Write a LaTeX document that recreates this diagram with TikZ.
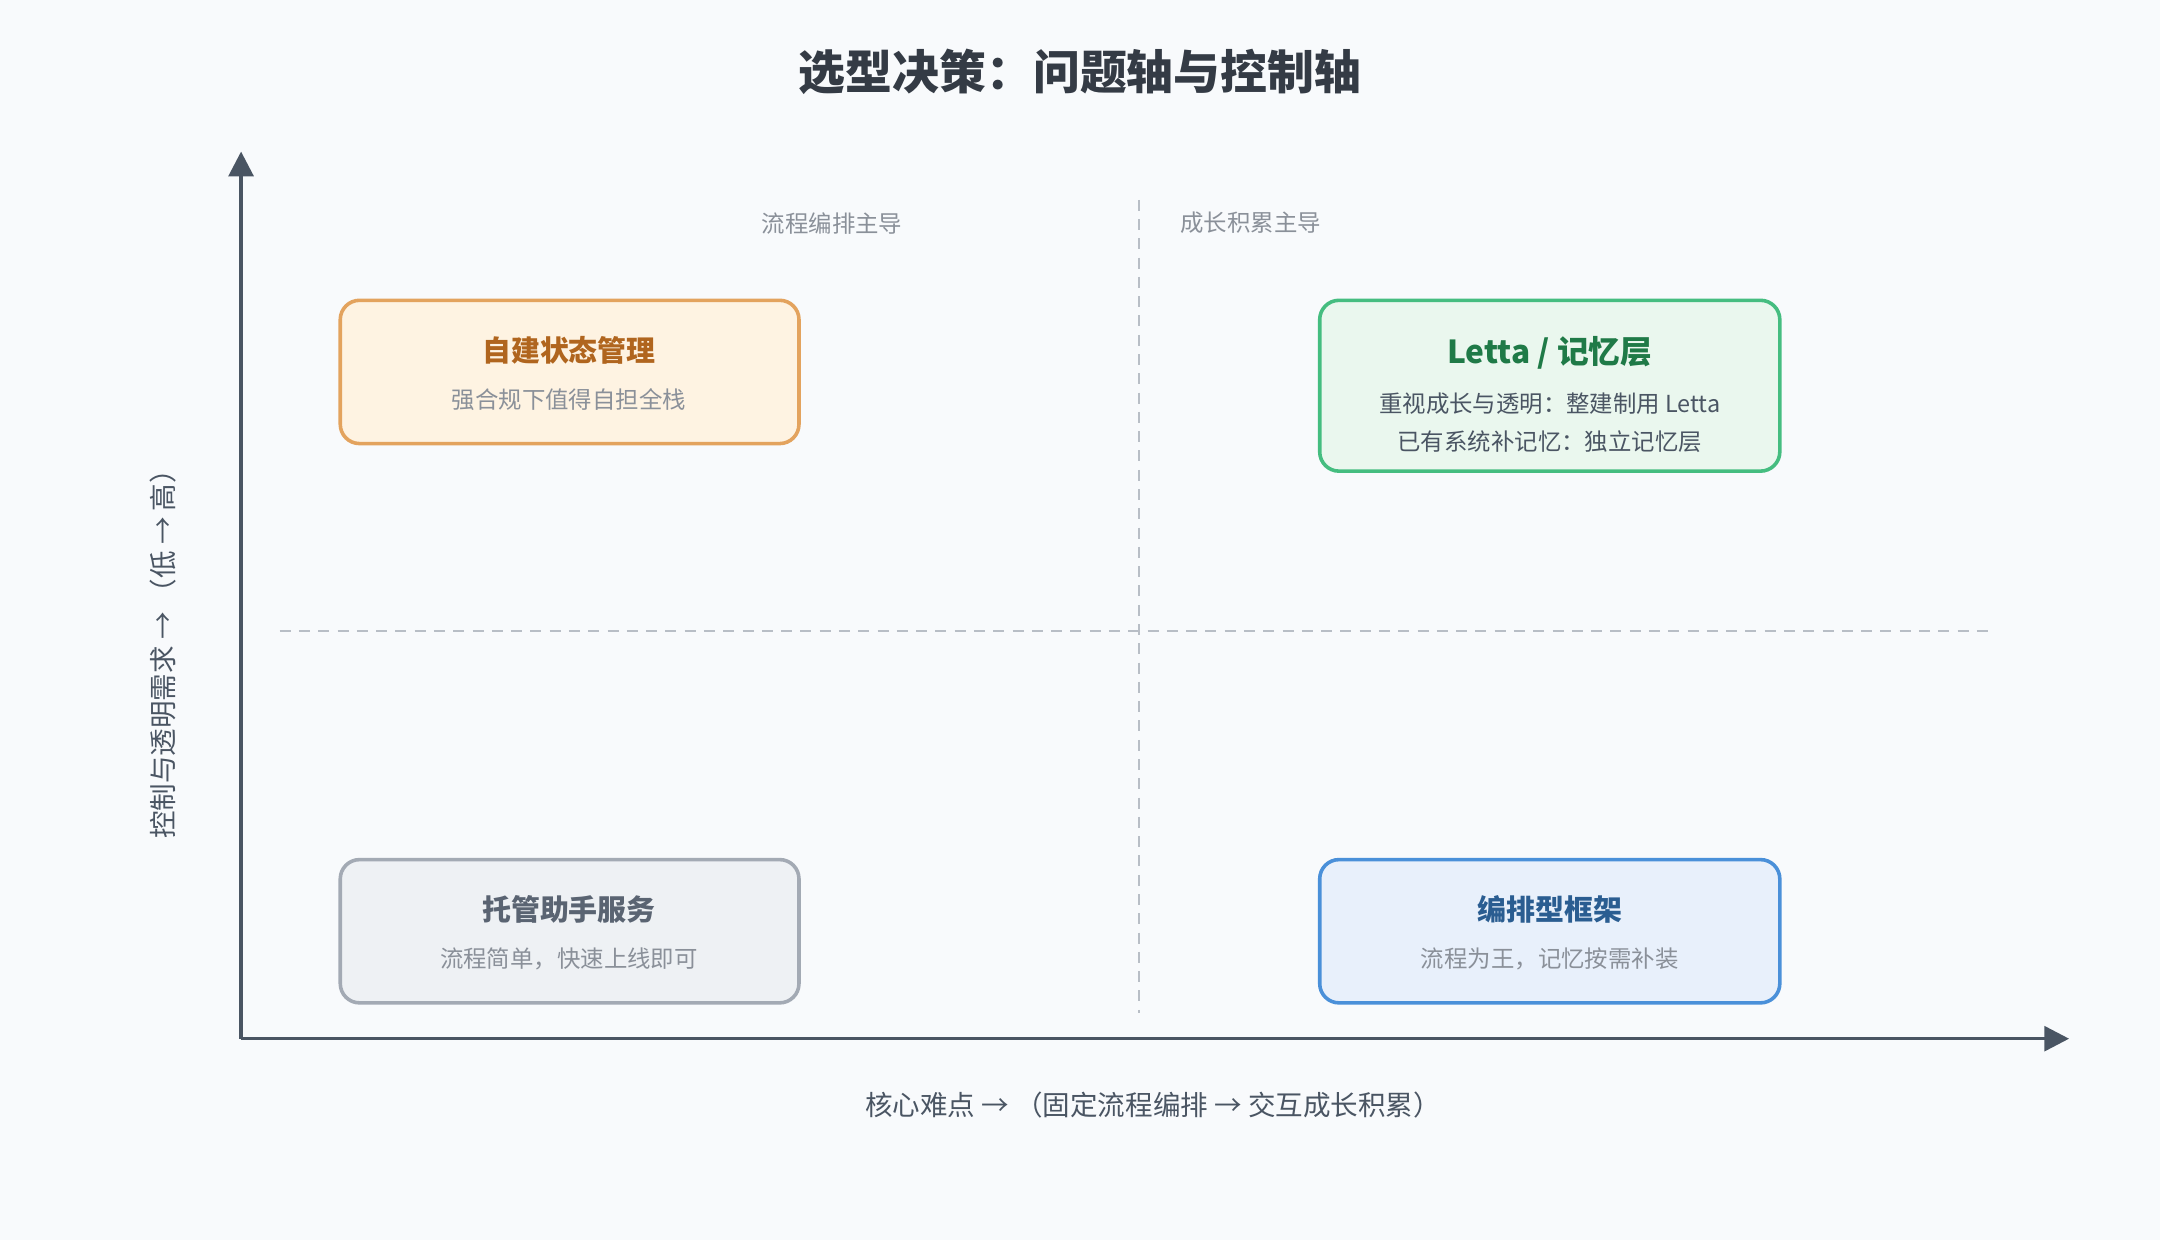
\documentclass[tikz,border=0pt]{standalone}
\usepackage{fontspec}
\setmainfont{Noto Sans CJK SC}
\usetikzlibrary{arrows.meta}
\definecolor{bgc}{HTML}{F8FAFC}
\definecolor{axisc}{HTML}{4A5563}
\definecolor{dashc}{HTML}{B8BEC6}
\definecolor{orfill}{HTML}{FEF3E2}
\definecolor{ordraw}{HTML}{E3A35E}
\definecolor{ortext}{HTML}{B0651E}
\definecolor{grfill}{HTML}{EAF7EE}
\definecolor{grdraw}{HTML}{45BD80}
\definecolor{grtext}{HTML}{1F7A47}
\definecolor{gyfill}{HTML}{EEF1F4}
\definecolor{gydraw}{HTML}{A3AAB4}
\definecolor{gytext}{HTML}{5A6472}
\definecolor{blfill}{HTML}{E8F0FB}
\definecolor{bldraw}{HTML}{4A90D9}
\definecolor{bltext}{HTML}{2A5D91}
\definecolor{subc}{HTML}{8A9099}
\tikzset{
  quad/.style={rounded corners=7pt, line width=1.3pt},
  qtitle/.style={font=\fontsize{10.5}{12}\selectfont\bfseries},
  qsub/.style={font=\fontsize{8.5}{10}\selectfont, text=subc},
  qline/.style={font=\fontsize{8.5}{14}\selectfont, text=axisc, align=center},
  grid/.style={dashc, dashed, line width=0.8pt, dash pattern=on 4pt off 3pt},
  axis/.style={axisc, line width=1.3pt, -{Triangle[length=9pt,width=9pt]}}
}
\begin{document}
\begin{tikzpicture}[x=0.5pt,y=-0.5pt]
  \fill[bgc] (0,0) rectangle (1568,900);
  \useasboundingbox (0,0) rectangle (1568,900);

  % title
  \node (title) at (784,52) {\fontsize{17}{20}\selectfont\bfseries\color{axisc!70!black}选型决策：问题轴与控制轴};

  % grid
  \draw[grid] (827,145) -- (827,735);
  \draw[grid] (203,458) -- (1447,458);

  % axes
  \coordinate (o) at (175,754);
  \coordinate (ytop) at (175,110);
  \coordinate (xend) at (1502,754);
  \draw[axis] (o) -- (ytop);
  \draw[axis] (o) -- (xend);
  \node[font=\fontsize{10}{12}\selectfont, text=axisc] (xlab) at (837,802) {核心难点 → （固定流程编排 → 交互成长积累）};
  \node[font=\fontsize{10}{12}\selectfont, text=axisc, rotate=90] (ylab) at (118,470) {控制与透明需求 → （低 → 高）};

  % column labels
  \node[qsub] (left) at (604,162) {流程编排主导};
  \node[qsub] (right) at (908,162) {成长积累主导};

  % quadrants
  \draw[quad, fill=orfill, draw=ordraw] (247,218) rectangle (580,322);
  \node[qtitle, text=ortext] (self) at (413,254) {自建状态管理};
  \node[qsub] (selfsub) at (413,290) {强合规下值得自担全栈};

  \draw[quad, fill=grfill, draw=grdraw] (958,218) rectangle (1292,342);
  \node[qtitle, text=grtext, font=\fontsize{11.5}{13}\selectfont\bfseries] (letta) at (1125,256) {Letta / 记忆层};
  \node[qline] (lettasub) at (1125,307) {重视成长与透明：整建制用 Letta\\已有系统补记忆：独立记忆层};

  \draw[quad, fill=gyfill, draw=gydraw] (247,624) rectangle (580,728);
  \node[qtitle, text=gytext] (host) at (413,660) {托管助手服务};
  \node[qsub] (hostsub) at (413,696) {流程简单，快速上线即可};

  \draw[quad, fill=blfill, draw=bldraw] (958,624) rectangle (1292,728);
  \node[qtitle, text=bltext] (orch) at (1125,660) {编排型框架};
  \node[qsub] (orchsub) at (1125,696) {流程为王，记忆按需补装};
\end{tikzpicture}
\end{document}
